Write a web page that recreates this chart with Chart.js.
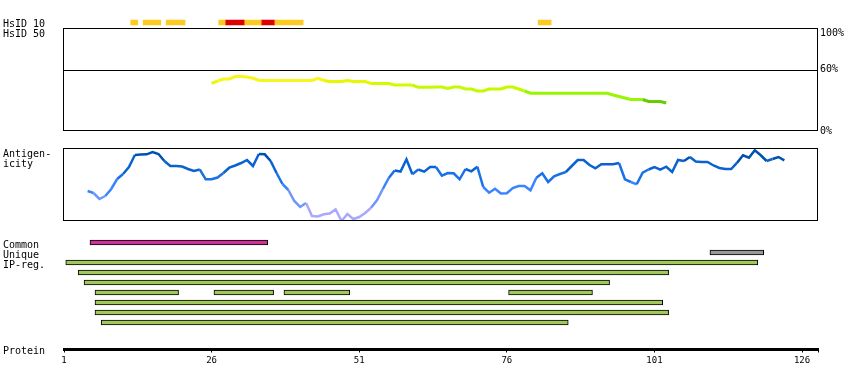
<!DOCTYPE html>
<html>
<head>
<meta charset="utf-8">
<script src="https://cdn.jsdelivr.net/npm/chart.js@4.4.1/dist/chart.umd.min.js"></script>
<style>
  body { margin: 0; background: #fff; }
  #wrap { position: relative; width: 850px; height: 390px; background: #fff; }
  #wrap canvas { position: absolute; left: 0; top: 0; }
  .lbl { position: absolute; left: 3px; font: 10px 'DejaVu Sans Mono', monospace; line-height: 10px; color: #000; white-space: pre; }
</style>
</head>
<body>
<div id="wrap">
  <canvas id="hsid10" width="850" height="390"></canvas>
  <canvas id="hsid50" width="850" height="390"></canvas>
  <canvas id="antigen" width="850" height="390"></canvas>
  <canvas id="regions" width="850" height="390"></canvas>
  <canvas id="protein" width="850" height="390"></canvas>
  <div class="lbl" style="top:19px">HsID 10</div>
  <div class="lbl" style="top:29px">HsID 50</div>
  <div class="lbl" style="top:149px">Antigen-</div>
  <div class="lbl" style="top:159px">icity</div>
  <div class="lbl" style="top:240px">Common</div>
  <div class="lbl" style="top:250px">Unique</div>
  <div class="lbl" style="top:260px">IP-reg.</div>
  <div class="lbl" style="top:346px">Protein</div>
</div>
<script>
// protein residue range
const residueMin = 1
const residueMax = 128.7
const proteinTicks = [1, 26, 51, 76, 101, 126]

// HsID 10 hits (residue spans) and their level
const hsid10Spans = [[12.3, 13.5], [14.4, 17.4], [18.3, 21.5], [27.2, 28.3], [28.3, 31.5], [31.5, 34.4], [34.4, 36.6], [36.6, 41.5], [81.3, 83.5]]
const hsid10Level = ['mid', 'mid', 'mid', 'mid', 'high', 'mid', 'high', 'mid', 'mid']

// HsID 50 identity (%) from residue 26
const hsid50Start = 26
const hsid50Values = [46.6, 49, 51, 51, 53.4, 53.4, 53, 51.7, 49.5, 49.5,
  49.5, 49.5, 49.5, 49.5, 49.5, 49.5, 49.5, 49.5, 51.7, 49.5,
  48.5, 48.5, 48.5, 49.5, 48.5, 48.5, 48.5, 46.6, 46.6, 46.6,
  46.6, 45.1, 45.1, 45.1, 45.1, 42.8, 42.8, 42.8, 43.1, 43.1,
  41.7, 43.1, 43.1, 41.2, 41.2, 39.2, 39.2, 41.2, 41.2, 41.2,
  43.1, 43.1, 41.2, 39.2, 37, 37, 37, 37, 37, 37,
  37, 37, 37, 37, 37, 37, 37, 37, 35.3, 33.8,
  32.4, 30.9, 30.9, 30.9, 28.9, 28.9, 28.9, 27.5]

// antigenicity score from residue 5
const antigenStart = 5
const antigenValues = [30, 28, 22, 25, 32, 42, 47, 54, 66, 66.5,
  66.7, 69, 67, 60, 55, 55, 54.5, 52, 50, 51.5,
  41.7, 41.7, 43.5, 48, 53.3, 55.5, 58, 61, 55, 67,
  66.7, 60, 48, 37, 31, 20, 14, 18, 5, 4.5,
  6.7, 7.5, 11.7, 0, 7, 2, 4, 8, 13.3, 20.7,
  32, 43, 50.5, 49.5, 61.7, 46.7, 51.5, 49.3, 54, 54,
  45.3, 48, 47.7, 41.7, 52, 49.7, 54.3, 34, 28.3, 32.3,
  27.5, 27.7, 33, 35, 35, 30.7, 43.3, 47.7, 39, 44.7,
  47, 49, 55, 61, 61, 56, 52.7, 56.7, 56.7, 56.7,
  58, 41.7, 39, 36.7, 48.3, 51.5, 54, 51.3, 54.3, 49,
  61, 60, 64, 59.5, 59, 59, 55.5, 53, 52, 52,
  58.3, 65.7, 63.3, 70.7, 65.7, 60, 62, 64, 60.7]

// region rows: Common, Unique, then IP-reg. rows
const rowNames = ['Common', 'Unique', 'IP-reg. 1', 'IP-reg. 2', 'IP-reg. 3', 'IP-reg. 4', 'IP-reg. 5', 'IP-reg. 6', 'IP-reg. 7']
const rowKinds = ['common', 'unique', 'ip', 'ip', 'ip', 'ip', 'ip', 'ip', 'ip']
const rowSegments = [
  [[5.4, 35.5]],
  [[110.4, 119.5]],
  [[1.3, 118.5]],
  [[3.4, 103.4]],
  [[4.4, 93.4]],
  [[6.25, 20.4], [26.4, 36.5], [38.25, 49.4], [76.3, 90.5]],
  [[6.25, 102.4]],
  [[6.25, 103.4]],
  [[7.3, 86.4]]
]

const levelColors = { mid: '#fdca22', high: '#dd0000' }
const kindColors = { common: '#cc3399', unique: '#999999', ip: '#a0c85a' }

const idColor = (v) => v >= 49.5 ? '#f6f61c' : v >= 47.5 ? '#e4f800' : v >= 44 ? '#d4fa00' : v >= 38.5 ? '#c4fa00' : v >= 30 ? '#99f500' : '#66cc00'
const agColor = (v) => v >= 62 ? '#0050b0' : v >= 50 ? '#0a62d0' : v >= 40 ? '#1a70e8' : v >= 27 ? '#3a84ff' : v >= 16 ? '#7095ff' : '#a8a8ff'

const xScale = () => ({ type: 'linear', min: residueMin, max: residueMax, display: false })
const pad = (top, bottom) => ({ left: 64, right: 32, top: top, bottom: 390 - bottom })

const box = {
  id: 'box',
  afterDatasetsDraw(chart) {
    const a = chart.chartArea
    const ctx = chart.ctx
    ctx.save()
    ctx.strokeStyle = '#000'
    ctx.lineWidth = 1
    ctx.strokeRect(a.left - 0.5, a.top - 0.5, a.right - a.left, a.bottom - a.top)
    ctx.restore()
  }
}

const pctAxis = {
  id: 'pctAxis',
  afterDatasetsDraw(chart) {
    const a = chart.chartArea
    const y = chart.scales.y
    const ctx = chart.ctx
    ctx.save()
    ctx.strokeStyle = '#000'
    ctx.lineWidth = 1
    const y60 = Math.round(y.getPixelForValue(60)) + 0.5
    ctx.beginPath()
    ctx.moveTo(a.left, y60)
    ctx.lineTo(a.right, y60)
    ctx.stroke()
    ctx.fillStyle = '#000'
    ctx.font = "10px 'DejaVu Sans Mono', monospace"
    ctx.textBaseline = 'middle'
    ;[100, 60, 0].forEach(v => {
      const py = Math.max(y.getPixelForValue(v), a.top + 4)
      ctx.fillText(v + '%', a.right + 2, py)
    })
    ctx.restore()
  }
}

const common = {
  responsive: false,
  animation: false,
  events: [],
  plugins: { legend: { display: false }, tooltip: { enabled: false } }
}

// HsID 10 strip
new Chart(document.getElementById('hsid10'), {
  type: 'bar',
  data: {
    labels: ['HsID 10'],
    datasets: hsid10Spans.map((s, i) => ({
      data: [s],
      backgroundColor: levelColors[hsid10Level[i]],
      borderWidth: 0,
      barThickness: 5,
      grouped: false
    }))
  },
  options: {
    ...common,
    indexAxis: 'y',
    layout: { padding: pad(17.5, 27.5) },
    scales: { x: xScale(), y: { type: 'category', display: false } }
  }
})

// HsID 50 line
new Chart(document.getElementById('hsid50'), {
  type: 'line',
  data: {
    datasets: [{
      data: hsid50Values.map((v, i) => ({ x: hsid50Start + i, y: v })),
      borderWidth: 3,
      pointRadius: 0,
      tension: 0,
      borderColor: '#f6f61c',
      segment: { borderColor: ctx => idColor((ctx.p0.parsed.y + ctx.p1.parsed.y) / 2) }
    }]
  },
  options: {
    ...common,
    layout: { padding: pad(29, 131) },
    scales: { x: xScale(), y: { min: 0, max: 100, display: false } }
  },
  plugins: [box, pctAxis]
})

// antigenicity line
new Chart(document.getElementById('antigen'), {
  type: 'line',
  data: {
    datasets: [{
      data: antigenValues.map((v, i) => ({ x: antigenStart + i, y: v })),
      borderWidth: 2.5,
      pointRadius: 0,
      tension: 0,
      borderColor: '#1a70e8',
      segment: { borderColor: ctx => agColor((ctx.p0.parsed.y + ctx.p1.parsed.y) / 2) }
    }]
  },
  options: {
    ...common,
    layout: { padding: pad(149, 221) },
    scales: { x: xScale(), y: { min: 0, max: 72, display: false } }
  },
  plugins: [box]
})

// region bars
const maxSegs = Math.max(...rowSegments.map(r => r.length))
const regionSets = []
for (let k = 0; k < maxSegs; k++) {
  regionSets.push({
    data: rowSegments.map(r => r[k] || null),
    backgroundColor: rowKinds.map(t => kindColors[t]),
    borderColor: '#000',
    borderWidth: 1,
    borderSkipped: false,
    barThickness: 5,
    grouped: false
  })
}
new Chart(document.getElementById('regions'), {
  type: 'bar',
  data: { labels: rowNames, datasets: regionSets },
  options: {
    ...common,
    indexAxis: 'y',
    layout: { padding: pad(237.5, 327.5) },
    scales: { x: xScale(), y: { type: 'category', display: false } }
  }
})

// protein axis
new Chart(document.getElementById('protein'), {
  type: 'line',
  data: { datasets: [] },
  options: {
    ...common,
    layout: { padding: { left: 64, right: 32, top: 346, bottom: 0 } },
    scales: {
      x: {
        type: 'linear',
        min: residueMin,
        max: residueMax,
        position: 'bottom',
        afterFit: s => { s.height = 40.5 },
        afterBuildTicks: s => { s.ticks = proteinTicks.concat([residueMax]).map(v => ({ value: v })) },
        border: { display: true, color: '#000', width: 3 },
        grid: { drawOnChartArea: false, color: '#000', tickColor: '#000', tickLength: 3 },
        ticks: {
          autoSkip: false,
          maxRotation: 0,
          padding: 3,
          color: '#000',
          font: { family: 'DejaVu Sans Mono', size: 9 },
          callback: v => v === residueMax ? '' : String(v)
        }
      },
      y: { display: false }
    }
  }
})
</script>
</body>
</html>
